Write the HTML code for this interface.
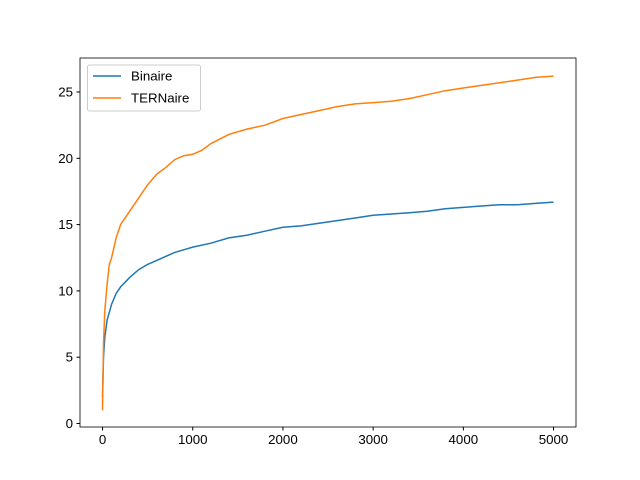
<!DOCTYPE html>
<html><head><meta charset="utf-8"><style>
body{margin:0;background:#fff}
svg{display:block;font-family:"Liberation Sans","DejaVu Sans",sans-serif}
</style></head><body>
<svg id="chart" width="640" height="480">
<rect x="0" y="0" width="640" height="480" fill="#fff"/>
<g id="plot"></g>
<rect x="80" y="58" width="496" height="369" fill="none" stroke="#000" stroke-width="0.8"/>
<g id="xticks"></g>
<g id="yticks"></g>
<g>
<rect x="87.5" y="65" width="113" height="46" rx="2" fill="#fff" fill-opacity="0.8" stroke="#ccc" stroke-width="1"/>
<line x1="93" y1="76" x2="121" y2="76" stroke="#1f77b4" stroke-width="1.5"/>
<text x="131" y="80.5" font-size="13.3">Binaire</text>
<line x1="93" y1="98" x2="121" y2="98" stroke="#ff7f0e" stroke-width="1.5"/>
<text x="131" y="102.5" font-size="13.3">TERNaire</text>
</g>
</svg>
<script>
const binX=[0,10,25,50,100,150,200,300,400,500,600,700,800,900,1000,1200,1400,1600,1800,2000,2200,2400,2600,2800,3000,3200,3400,3600,3800,4000,4200,4400,4600,4800,4999];
const binY=[2,5,6.5,7.8,9,9.8,10.3,11,11.6,12,12.3,12.6,12.9,13.1,13.3,13.6,14,14.2,14.5,14.8,14.9,15.1,15.3,15.5,15.7,15.8,15.9,16.0,16.2,16.3,16.4,16.5,16.5,16.6,16.7];
const terX=[0,10,25,50,75,100,150,200,300,400,500,600,700,800,900,1000,1100,1200,1400,1600,1800,2000,2200,2400,2600,2800,3000,3200,3400,3600,3800,4000,4200,4400,4600,4800,4999];
const terY=[1,6,8.5,10.5,12,12.5,14,15,16,17,18,18.8,19.3,19.9,20.2,20.3,20.6,21.1,21.8,22.2,22.5,23,23.3,23.6,23.9,24.1,24.2,24.3,24.5,24.8,25.1,25.3,25.5,25.7,25.9,26.1,26.2];
const xTicks=[0,1000,2000,3000,4000,5000];
const yTicks=[0,5,10,15,20,25];
const L=80,R=576,T=58,B=427,xmin=-250,xmax=5249,ymin=-0.265,ymax=27.565;
const sx=v=>L+(v-xmin)/(xmax-xmin)*(R-L);
const sy=v=>B-(v-ymin)/(ymax-ymin)*(B-T);
const NS="http://www.w3.org/2000/svg";
const plot=document.getElementById('plot');
function line(xs,ys,c,name){
  const p=document.createElementNS(NS,'polyline');
  p.setAttribute('points',xs.map((x,i)=>sx(x).toFixed(1)+','+sy(ys[i]).toFixed(1)).join(' '));
  p.setAttribute('fill','none');p.setAttribute('stroke',c);p.setAttribute('stroke-width','1.5');
  
  
  plot.appendChild(p);
}
line(binX,binY,'#1f77b4','series-binaire');
line(terX,terY,'#ff7f0e','series-ternaire');
const xg=document.getElementById('xticks');
xTicks.forEach(v=>{
  const l=document.createElementNS(NS,'line');
  l.setAttribute('x1',sx(v));l.setAttribute('x2',sx(v));l.setAttribute('y1',B);l.setAttribute('y2',B+3.5);l.setAttribute('stroke','#000');
  
  
  xg.appendChild(l);
  const t=document.createElementNS(NS,'text');
  t.setAttribute('x',sx(v));t.setAttribute('y',B+17);t.setAttribute('text-anchor','middle');t.setAttribute('font-size','13.3');
  t.textContent=v;
  
  
  xg.appendChild(t);
});
const yg=document.getElementById('yticks');
yTicks.forEach(v=>{
  const l=document.createElementNS(NS,'line');
  l.setAttribute('x1',L-3.5);l.setAttribute('x2',L);l.setAttribute('y1',sy(v));l.setAttribute('y2',sy(v));l.setAttribute('stroke','#000');
  
  
  yg.appendChild(l);
  const t=document.createElementNS(NS,'text');
  t.setAttribute('x',L-7);t.setAttribute('y',sy(v)+4.5);t.setAttribute('text-anchor','end');t.setAttribute('font-size','13.3');
  t.textContent=v;
  
  
  yg.appendChild(t);
});
</script>
</body></html>
